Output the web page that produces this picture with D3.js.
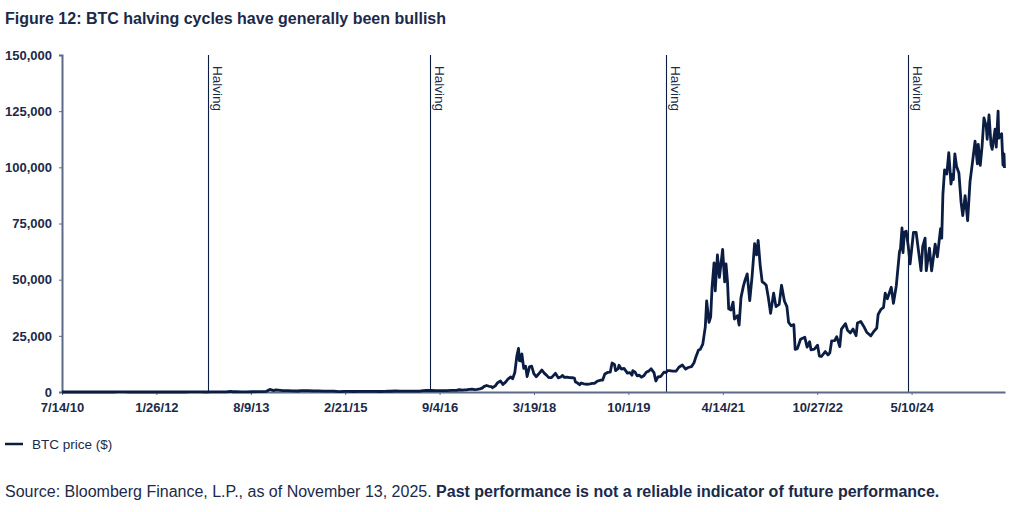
<!DOCTYPE html>
<html><head><meta charset="utf-8">
<script src="https://cdn.jsdelivr.net/npm/d3@7"></script>
<style>
html,body{margin:0;padding:0;background:#fff;}
svg{display:block;font-family:"Liberation Sans",Arial,Helvetica,sans-serif;}
</style></head>
<body>
<svg id="c" width="1024" height="512"></svg>
<script>
const titleText = "Figure 12: BTC halving cycles have generally been bullish";
const seriesName = "BTC price ($)";
const sourceNormal = "Source: Bloomberg Finance, L.P., as of November 13, 2025. ";
const sourceBold = "Past performance is not a reliable indicator of future performance.";
const yTicks = [0, 25000, 50000, 75000, 100000, 125000, 150000];
const xTickDates = ["2010-07-14","2012-01-26","2013-08-09","2015-02-21","2016-09-04","2018-03-19","2019-10-01","2021-04-14","2022-10-27","2024-05-10"];
const halvingDates = ["2012-11-28","2016-07-09","2020-05-11","2024-04-20"];
const halvingLabel = "Halving";

const dates = [
"2010-07-14","2010-08-15","2010-09-15","2010-10-15","2010-11-15","2010-12-15",
"2011-01-15","2011-02-15","2011-03-15","2011-04-15","2011-05-15","2011-06-10","2011-07-15","2011-08-15","2011-09-15","2011-10-15","2011-11-15","2011-12-15",
"2012-01-15","2012-02-15","2012-03-15","2012-04-15","2012-05-15","2012-06-15","2012-07-15","2012-08-15","2012-09-15","2012-10-15","2012-11-15","2012-12-15",
"2013-01-15","2013-02-15","2013-03-15","2013-04-10","2013-04-20","2013-05-15","2013-06-15","2013-07-15","2013-08-15","2013-09-15","2013-10-15","2013-11-10","2013-11-30","2013-12-10","2013-12-20",
"2014-01-05","2014-01-20","2014-02-15","2014-03-15","2014-04-15","2014-05-15","2014-06-05","2014-07-15","2014-08-15","2014-09-15","2014-10-15","2014-11-15","2014-12-15",
"2015-01-14","2015-02-15","2015-03-15","2015-04-15","2015-05-15","2015-06-15","2015-07-15","2015-08-15","2015-09-15","2015-10-15","2015-11-04","2015-11-15","2015-12-15",
"2016-01-15","2016-02-15","2016-03-15","2016-04-15","2016-05-15","2016-06-17","2016-07-15","2016-08-15","2016-09-15","2016-10-15","2016-11-15","2016-12-15",
"2017-01-01","2017-01-15","2017-02-01","2017-02-15","2017-03-01","2017-03-15","2017-04-01","2017-04-15","2017-05-01","2017-05-15","2017-05-25","2017-06-10","2017-06-25","2017-07-10","2017-07-16","2017-08-01","2017-08-15","2017-09-01","2017-09-15","2017-10-01","2017-10-15","2017-11-01","2017-11-12","2017-11-25","2017-12-07","2017-12-17","2017-12-22","2017-12-31",
"2018-01-06","2018-01-17","2018-01-28","2018-02-06","2018-02-20","2018-03-05","2018-03-18","2018-04-01","2018-04-15","2018-05-05","2018-05-20","2018-06-01","2018-06-15","2018-07-01","2018-07-24","2018-08-10","2018-08-25","2018-09-05","2018-09-15","2018-10-01","2018-10-15","2018-11-01","2018-11-14","2018-11-20","2018-12-01","2018-12-15","2018-12-24",
"2019-01-10","2019-01-28","2019-02-15","2019-03-01","2019-03-15","2019-04-02","2019-04-20","2019-05-01","2019-05-14","2019-05-30","2019-06-15","2019-06-26","2019-07-10","2019-07-17","2019-08-01","2019-08-06","2019-08-20","2019-09-05","2019-09-25","2019-10-10","2019-10-22","2019-10-27","2019-11-10","2019-11-22","2019-12-05","2019-12-17","2019-12-31",
"2020-01-15","2020-02-01","2020-02-13","2020-03-01","2020-03-12","2020-03-25","2020-04-10","2020-04-29","2020-05-11","2020-05-20","2020-06-01","2020-06-20","2020-07-10","2020-07-27","2020-08-17","2020-09-05","2020-09-20","2020-10-10","2020-10-25","2020-11-05","2020-11-20","2020-12-01","2020-12-16","2020-12-31",
"2021-01-08","2021-01-22","2021-02-01","2021-02-09","2021-02-21","2021-02-28","2021-03-13","2021-03-25","2021-04-13","2021-04-25","2021-05-03","2021-05-12","2021-05-19","2021-06-01","2021-06-14","2021-06-22","2021-07-10","2021-07-20","2021-07-31","2021-08-14","2021-08-23","2021-09-06","2021-09-21","2021-10-05","2021-10-20","2021-11-01","2021-11-10","2021-11-22","2021-12-04","2021-12-15","2021-12-28",
"2022-01-10","2022-01-23","2022-02-10","2022-02-24","2022-03-15","2022-03-29","2022-04-15","2022-04-30","2022-05-10","2022-05-25","2022-06-10","2022-06-18","2022-07-01","2022-07-20","2022-08-14","2022-08-28","2022-09-12","2022-09-20","2022-10-10","2022-10-29","2022-11-09","2022-11-21","2022-12-14","2022-12-30",
"2023-01-10","2023-01-21","2023-02-08","2023-02-20","2023-03-10","2023-03-20","2023-04-13","2023-04-25","2023-05-12","2023-05-28","2023-06-15","2023-06-23","2023-07-13","2023-07-30","2023-08-17","2023-09-11","2023-09-29","2023-10-16","2023-10-24","2023-11-09","2023-11-25","2023-12-05","2023-12-18",
"2024-01-10","2024-01-23","2024-02-09","2024-02-28","2024-03-05","2024-03-14","2024-03-20","2024-03-28","2024-04-08","2024-04-20","2024-05-01","2024-05-21","2024-06-06","2024-06-24","2024-07-05","2024-07-15","2024-07-29","2024-08-05","2024-08-24","2024-09-06","2024-09-27","2024-10-10","2024-10-29","2024-11-05","2024-11-12","2024-11-22","2024-12-05","2024-12-17","2024-12-30",
"2025-01-07","2025-01-13","2025-01-22","2025-02-01","2025-02-15","2025-02-28","2025-03-10","2025-03-24","2025-04-08","2025-04-22","2025-05-08","2025-05-22","2025-06-05","2025-06-10","2025-06-22","2025-07-03","2025-07-14","2025-07-28","2025-08-02","2025-08-13","2025-08-25","2025-09-01","2025-09-18","2025-09-25","2025-10-06","2025-10-10","2025-10-27","2025-11-04","2025-11-10","2025-11-13"
];
const prices = [
0.08,0.07,0.06,0.10,0.28,0.25,
0.4,1.0,0.9,1.0,7,30,14,11,5,4,2.5,3.2,
6.5,4.5,5,5,5,6.5,8,12,11.5,12,11,13.5,
14,27,47,230,120,115,100,95,110,130,145,300,1130,950,650,
900,820,650,630,500,450,650,620,500,480,390,380,350,
180,240,280,230,237,235,285,260,230,255,400,330,450,
390,400,415,430,455,750,660,570,610,640,710,780,
1000,820,990,1010,1190,1250,1080,1180,1420,1750,2400,2900,2550,2400,1900,2750,4150,4900,3300,4400,5700,6700,5900,8700,16000,19400,14000,13800,
17000,10500,11500,6900,11200,11500,8200,6800,8000,9800,8300,7500,6400,6400,8300,6300,6700,7400,6500,6600,6400,6350,6200,4500,4100,3250,4000,
3600,3450,3600,3800,3900,4900,5300,5350,8000,8700,8800,12900,12300,9500,10400,11900,10200,10500,8400,8600,7500,9500,8800,7200,7500,6600,7200,
8800,9400,10300,8600,4900,6700,6900,8800,8600,9500,9500,9300,9250,11000,12000,10200,10900,11300,13000,15600,18600,19000,21300,29000,
40500,31000,33500,46500,57500,45000,61000,51000,63500,49000,57000,49000,37000,36500,40000,32500,34000,29800,42000,47000,49500,52600,40700,51500,66000,61000,67500,56500,49000,48500,47500,
41800,35000,44000,38000,39000,47500,40500,38000,31000,29500,30000,19000,19300,23500,24400,20000,22400,18800,19100,20800,16000,15800,18000,16500,
17400,22800,22900,24600,20200,28000,30400,27500,26300,28000,25100,30700,31400,29300,26600,25000,27000,28500,34500,36700,37700,44000,41500,
46600,39500,47300,62500,63800,73000,62000,71000,71600,64900,57000,71000,71000,60500,54000,64800,68500,54000,64000,53900,65800,60200,72700,68500,88000,98900,97000,106500,92500,
96900,94500,106000,100500,97500,84400,78500,87400,76300,93500,103000,111700,101600,110200,100900,109600,122000,118000,112500,123300,110000,108000,117000,109000,125000,113000,115000,101000,106000,99700
];

const parse = d3.timeParse("%Y-%m-%d");
const fmt = d3.timeFormat("%-m/%-d/%y");
const data = dates.map((d,i)=>({date:parse(d), value:prices[i]}));

const svg = d3.select("#c");
const textColor = "#1b2a4a";
const axisColor = "#5d6a87";
const lineColor = "#0b1d42";

const mLeft = 62, mRight = 1005, mTop = 55, mBottom = 392;
const x = d3.scaleTime().domain([parse("2010-07-14"), parse("2025-11-16")]).range([mLeft, mRight]);
const y = d3.scaleLinear().domain([0,150000]).range([mBottom, mTop]);

svg.append("text").attr("x",5).attr("y",24).attr("fill",textColor)
  .attr("font-size",16).attr("font-weight","bold").text(titleText);

// halving lines
const hv = svg.append("g");
halvingDates.forEach(d=>{
  const hx = Math.round(x(parse(d)))+0.5;
  hv.append("line").attr("x1",hx).attr("x2",hx).attr("y1",mTop).attr("y2",mBottom)
    .attr("stroke",lineColor).attr("stroke-width",1.1);
  hv.append("text").attr("transform",`translate(${hx+3},66) rotate(90)`)
    .attr("fill",textColor).attr("font-size",13.5).attr("dy","-0.1em").text(halvingLabel);
});

// y axis
const ya = svg.append("g").attr("transform",`translate(${mLeft},0)`)
  .call(d3.axisLeft(y).tickValues(yTicks).tickSize(3).tickPadding(7).tickFormat(d3.format(",")));
ya.select(".domain").attr("stroke",axisColor).attr("stroke-width",2);
ya.selectAll(".tick line").attr("stroke",axisColor);
ya.selectAll("text").attr("fill",textColor).attr("font-size",13).attr("font-weight","bold")
  .attr("font-family","Liberation Sans, Arial, sans-serif");

// x axis
const xa = svg.append("g").attr("transform",`translate(0,${mBottom})`)
  .call(d3.axisBottom(x).tickValues(xTickDates.map(parse)).tickSize(3).tickSizeOuter(0).tickPadding(8).tickFormat(fmt));
xa.select(".domain").attr("stroke",axisColor).attr("stroke-width",2);
xa.selectAll(".tick line").attr("stroke",axisColor);
xa.selectAll("text").attr("fill",textColor).attr("font-size",13).attr("font-weight","bold")
  .attr("font-family","Liberation Sans, Arial, sans-serif");

// series
svg.append("path").datum(data)
  .attr("d", d3.line().x(d=>x(d.date)).y(d=>y(d.value)))
  .attr("fill","none").attr("stroke",lineColor).attr("stroke-width",2.8).attr("stroke-linejoin","round");

// legend
svg.append("line").attr("x1",5).attr("x2",23).attr("y1",444).attr("y2",444)
  .attr("stroke",lineColor).attr("stroke-width",2.5);
svg.append("text").attr("x",32).attr("y",449).attr("fill",textColor).attr("font-size",13.5).text(seriesName);

// source
const st = svg.append("text").attr("x",5).attr("y",497).attr("fill",textColor).attr("font-size",16);
st.append("tspan").text(sourceNormal);
st.append("tspan").attr("font-weight","bold").text(sourceBold);
</script>
</body></html>
